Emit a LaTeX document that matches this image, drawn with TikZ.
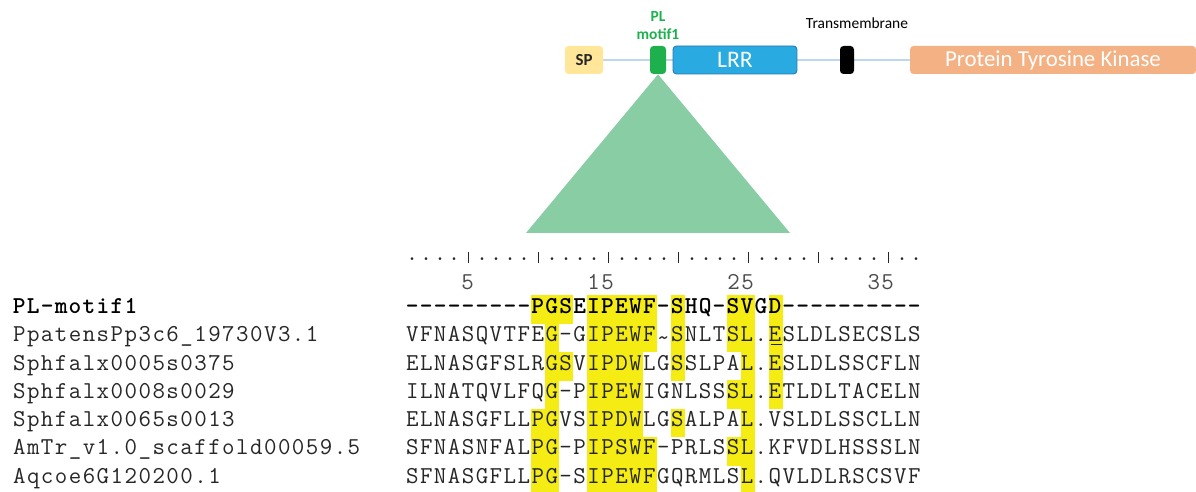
\documentclass[tikz,border=0pt]{standalone}
\usepackage{fontspec}
\newfontfamily\carlito{Carlito}
\usetikzlibrary{positioning, backgrounds}
\definecolor{spyellow}{RGB}{255, 230, 153}
\definecolor{motifgreen}{RGB}{30, 176, 76}
\definecolor{lrrblue}{RGB}{41, 170, 225}
\definecolor{lrrborder}{RGB}{46, 117, 182}
\definecolor{pkorange}{RGB}{244, 177, 131}
\definecolor{linkblue}{RGB}{189, 215, 238}
\definecolor{wedgegreen}{RGB}{137, 205, 165}
\definecolor{hlyellow}{RGB}{245, 236, 20}
% one alignment column = 14px
\newlength\alncw
\setlength\alncw{7.937pt}
\def\alnchars#1{\alnstep#1\relax}
\def\alnstep#1{\ifx#1\relax\else\makebox[\alncw][c]{#1}\expandafter\alnstep\fi}
\newcommand\lowtilde{\raisebox{-0.35ex}{\textasciitilde}}

\begin{document}
\begin{tikzpicture}[x=0.02cm, y=-0.02cm,
  protbox/.style={rounded corners=2pt, inner sep=0pt, minimum height=0.56cm},
  toplabel/.style={inner sep=0pt, font=\carlito\fontsize{8.8pt}{10.2pt}\selectfont},
  seq/.style={anchor=base west, inner sep=0pt, text=black!85, font=\fontsize{13.8pt}{15pt}\ttfamily},
  hl/.style={fill=hlyellow},
  rulebar/.style={draw=black!85, line width=0.55pt}
]
  \useasboundingbox (0,0) rectangle (1196,492);

  % protein domains
  \node[protbox, fill=spyellow, minimum width=0.76cm, font=\carlito\bfseries\fontsize{9.6pt}{10pt}\selectfont, text=black!85] (sp) at (584,60) {SP};
  \node[protbox, fill=motifgreen, minimum width=0.32cm] (motif) at (658,60) {};
  \node[protbox, fill=lrrblue, draw=lrrborder, line width=0.5pt, minimum width=2.48cm, text=white, font=\carlito\fontsize{13.5pt}{15pt}\selectfont] (lrr) at (735,60) {LRR};
  \node[protbox, fill=black, minimum width=0.28cm] (tm) at (847,60) {};
  \node[protbox, fill=pkorange, minimum width=5.72cm, text=white, font=\carlito\fontsize{13pt}{15pt}\selectfont] (ptk) at (1053,60) {Protein Tyrosine Kinase};
  \begin{pgfonlayer}{background}
    \draw[linkblue, line width=0.9pt] (sp.east) -- (ptk.west);
  \end{pgfonlayer}

  \node[toplabel, align=center, text=motifgreen, font=\carlito\bfseries\fontsize{8.8pt}{10.2pt}\selectfont] (motiflabel) at (658,26) {PL\\motif1};
  \node[toplabel, anchor=base, text=black] (tmlabel) at (857,28.5) {Transmembrane};

  % zoom wedge
  \coordinate (wl) at (526,233);
  \coordinate (wr) at (790,233);
  \fill[wedgegreen] (motif.south) -- (wr) -- (wl) -- cycle;

  % highlighted columns
  \foreach \r/\cols in {0/{10,11,12,14,15,16,17,18,20,24,25,27},
                        1/{11,14,15,16,17,18,20,24,25,27},
                        2/{11,12,14,15,16,17,20,25,27},
                        3/{11,14,15,16,17,24,25,27},
                        4/{10,11,14,15,16,17,20,25},
                        5/{10,11,14,15,16,17,18,24,25},
                        6/{10,11,14,15,16,17,18,25}}
    \foreach \c in \cols
      \fill[hl] ({405+14*(\c-1)},{295.5+28.3*\r}) rectangle ++(14.3,28.6);

  % ruler
  \foreach \c in {1,...,37} {
    \pgfmathtruncatemacro\m{mod(\c,5)}
    \ifnum\m=0
      \draw[rulebar] ({398+14*\c},252) -- ++(0,11);
    \else
      \node[seq, anchor=base] (dot\c) at ({398+14*\c},261) {.};
    \fi
  }
  \node[seq, anchor=base east, text=black!70] (n5) at ({405+14*5},290) {\alnchars{5}};
  \node[seq, anchor=base east, text=black!70] (n15) at ({405+14*15},290) {\alnchars{15}};
  \node[seq, anchor=base east, text=black!70] (n25) at ({405+14*25},290) {\alnchars{25}};
  \node[seq, anchor=base east, text=black!70] (n35) at ({405+14*35},290) {\alnchars{35}};

  % names
  \node[seq, font=\fontsize{13.8pt}{15pt}\ttfamily\bfseries, text=black] (name0) at (12,313.5) {\alnchars{PL-motif1}};
  \node[seq] (name1) at (12,341.8) {\alnchars{PpatensPp3c6\_19730V3.1}};
  \node[seq] (name2) at (12,370.1) {\alnchars{Sphfalx0005s0375}};
  \node[seq] (name3) at (12,398.4) {\alnchars{Sphfalx0008s0029}};
  \node[seq] (name4) at (12,426.7) {\alnchars{Sphfalx0065s0013}};
  \node[seq] (name5) at (12,455.0) {\alnchars{AmTr\_v1.0\_scaffold00059.5}};
  \node[seq] (name6) at (12,483.3) {\alnchars{Aqcoe6G120200.1}};

  % sequences
  \node[seq, font=\fontsize{13.8pt}{15pt}\ttfamily\bfseries, text=black] (seq0) at (405,313.5) {\alnchars{---------PGSEIPEWF-SHQ-SVGD----------}};
  \node[seq] (seq1) at (405,341.8) {\alnchars{VFNASQVTFEG-GIPEWF\lowtilde SNLTSL.ESLDLSECSLS}};
  \node[seq] (seq2) at (405,370.1) {\alnchars{ELNASGFSLRGSVIPDWLGSSLPAL.ESLDLSSCFLN}};
  \node[seq] (seq3) at (405,398.4) {\alnchars{ILNATQVLFQG-PIPEWIGNLSSSL.ETLDLTACELN}};
  \node[seq] (seq4) at (405,426.7) {\alnchars{ELNASGFLLPGVSIPDWLGSALPAL.VSLDLSSCLLN}};
  \node[seq] (seq5) at (405,455.0) {\alnchars{SFNASNFALPG-PIPSWF-PRLSSL.KFVDLHSSSLN}};
  \node[seq] (seq6) at (405,483.3) {\alnchars{SFNASGFLLPG-SIPEWFGQRMLSL.QVLDLRSCSVF}};
  \draw[black!85, line width=0.6pt] ({405+14*26+1.5},344.8) -- ++(11,0);
\end{tikzpicture}
\end{document}
